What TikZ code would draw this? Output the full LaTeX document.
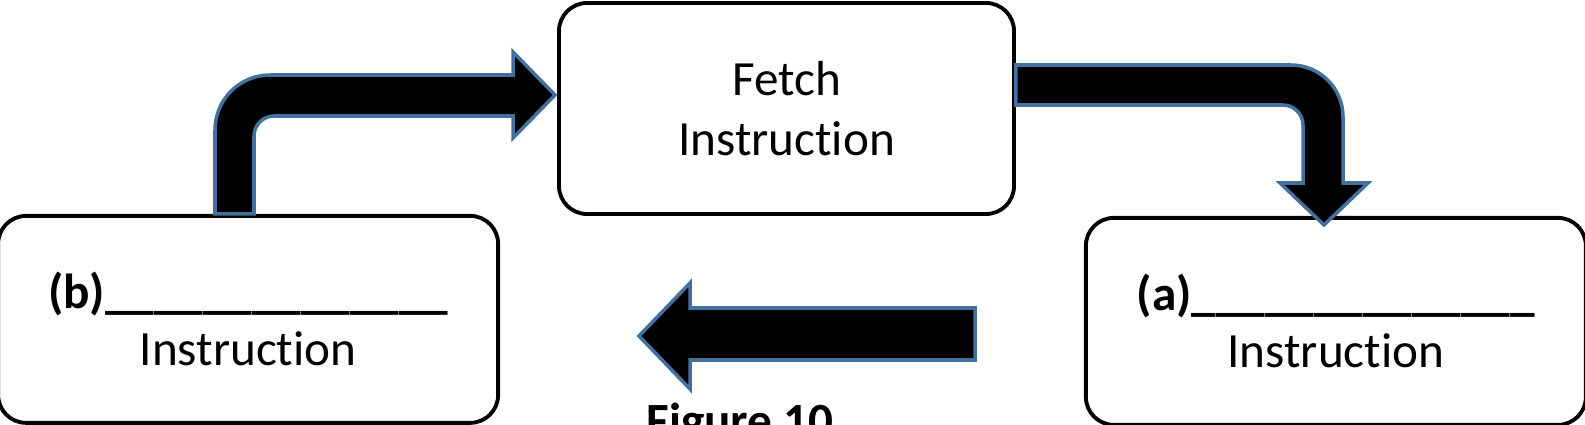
\documentclass[tikz,border=0pt]{standalone}
\usepackage{fontspec}
\setmainfont{Carlito}[Ligatures=NoCommon]
\usetikzlibrary{positioning,calc}

\begin{document}
\begin{tikzpicture}[node distance=0cm and 0.6cm]

\tikzset{
  box/.style={
    rectangle, rounded corners=2.8mm,
    draw, line width=1.1pt, align=center,
    minimum height=2.07cm, minimum width=5.0cm,
    inner sep=2pt, font=\fontsize{14}{16.2}\selectfont
  },
  bigarrow/.style={fill=black, draw={rgb,255:red,65;green,113;blue,156}, line width=1pt, line join=miter}
}

\useasboundingbox (0,0) rectangle (15.85,4.24);

% ==========================
% Boxes
% ==========================
\node[box, minimum width=4.55cm, minimum height=2.11cm, font=\fontsize{14}{17.3}\selectfont] (fetch) at (7.865,3.155) {Fetch\\Instruction};
\node[box, below left=-0.02cm and 0.57cm of fetch] (lbox)
{\textbf{(b)\_\_\_\_\_\_\_\_\_\_\_\_\_\_}\\Instruction};
\node[box, below right=0cm and 0.68cm of fetch] (rbox)
{\textbf{(a)\_\_\_\_\_\_\_\_\_\_\_\_\_\_}\\Instruction};

% ==========================
% Block arrows
% ==========================
% (b) up and over to fetch
\fill[bigarrow] (2.15,0 |- lbox.north) -- (2.15,2.94)
  arc[start angle=180, end angle=90, radius=0.55] -- (5.13,3.49)
  -- (5.13,3.72) -- (5.55,3.29) -- (5.13,2.86) -- (5.13,3.08)
  -- (2.74,3.08) arc[start angle=90, end angle=180, radius=0.2]
  -- (2.54,0 |- lbox.north) -- cycle;

% fetch over and down to (a)
\fill[bigarrow] (fetch.east |- 0,3.59) -- (12.91,3.59)
  arc[start angle=90, end angle=0, radius=0.52] -- (13.43,2.41)
  -- (13.68,2.41) -- (13.24,1.99) -- (12.80,2.41) -- (13.03,2.41)
  -- (13.03,2.99) arc[start angle=0, end angle=90, radius=0.2]
  -- (fetch.east |- 0,3.19) -- cycle;

% (a) back to (b)
\fill[bigarrow] (9.75,1.16) -- (6.90,1.16) -- (6.90,1.41) -- (6.39,0.88)
  -- (6.90,0.35) -- (6.90,0.64) -- (9.75,0.64) -- cycle;

% Caption
\node[font=\bfseries\fontsize{14}{17}\selectfont, anchor=base] (caption) at (7.40,-0.13) {Figure 10};

\end{tikzpicture}
\end{document}
